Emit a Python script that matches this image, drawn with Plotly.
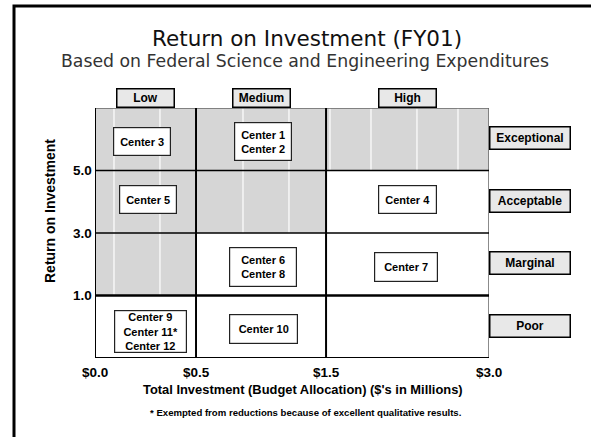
import plotly.graph_objects as go

# ---------------- data ----------------
invest_tiers = ["Low", "Medium", "High"]
return_tiers = ["Poor", "Marginal", "Acceptable", "Exceptional"]
x_tick_labels = ["$0.0", "$0.5", "$1.5", "$3.0"]
y_tick_labels = ["1.0", "3.0", "5.0"]

center_labels = ["Center 3", "Center 1<br>Center 2", "Center 5", "Center 4",
                 "Center 6<br>Center 8", "Center 7",
                 "Center 9<br>Center 11*<br>Center 12", "Center 10"]
center_invest = ["Low", "Medium", "Low", "High", "Medium", "High", "Low", "Medium"]
center_return = ["Exceptional", "Exceptional", "Acceptable", "Acceptable",
                 "Marginal", "Marginal", "Poor", "Poor"]

shaded_invest = ["Low", "Medium", "High", "Low", "Medium", "Low"]
shaded_return = ["Exceptional", "Exceptional", "Exceptional", "Acceptable", "Acceptable", "Marginal"]

title = "Return on Investment (FY01)"
subtitle = "Based on Federal Science and Engineering Expenditures"
x_title = "Total Investment (Budget Allocation) ($'s in Millions)"
y_title = "Return on Investment"
footnote = "* Exempted from reductions because of excellent qualitative results."

# ---------------- layout geometry ----------------
W, H = 591, 437
L, R, T, B = 95, 489, 108, 358
col_edges = [0, 1.0, 2.287, 3.9]          # display positions of $ thresholds
texture_x = [0.188, 0.643, 1.465, 1.92, 2.326, 2.732, 3.187, 3.593]

def px(x):
    return (x - L) / (R - L)

def py(y):
    return (B - y) / (B - T)

def col_center(tier):
    i = invest_tiers.index(tier)
    return (col_edges[i] + col_edges[i + 1]) / 2

def row_center(tier):
    return return_tiers.index(tier) + 0.5

BOLD = "Liberation Sans, Arial, sans-serif"

fig = go.Figure()
fig.add_trace(go.Scatter(x=[0, 3.9], y=[0, 4], mode="markers",
                         marker=dict(opacity=0), hoverinfo="skip", showlegend=False))

shapes = []
# shaded cells
for inv, ret in zip(shaded_invest, shaded_return):
    i = invest_tiers.index(inv)
    j = return_tiers.index(ret)
    shapes.append(dict(type="rect", xref="x", yref="y", x0=col_edges[i], x1=col_edges[i + 1],
                       y0=j, y1=j + 1, fillcolor="#d6d6d6", line=dict(width=0), layer="below"))
# texture lines
for tx in texture_x:
    shapes.append(dict(type="line", xref="x", yref="y", x0=tx, x1=tx, y0=0, y1=4,
                       line=dict(color="white", width=1.2), layer="below"))
# outer plot border (top/right gray)
shapes.append(dict(type="rect", xref="x", yref="y", x0=0, x1=3.9, y0=0, y1=4,
                   line=dict(color="#666666", width=1.5), layer="below"))
# row boundaries
for j, w in zip([1, 2, 3], [2.5, 1.5, 1.5]):
    shapes.append(dict(type="line", xref="x", yref="y", x0=0, x1=3.9, y0=j, y1=j,
                       line=dict(color="black", width=w), layer="below"))
# column boundaries
for e in col_edges[1:3]:
    shapes.append(dict(type="line", xref="x", yref="y", x0=e, x1=e, y0=0, y1=4,
                       line=dict(color="black", width=2), layer="below"))
# left and bottom axis lines
shapes.append(dict(type="line", xref="x", yref="y", x0=0, x1=0, y0=0, y1=4,
                   line=dict(color="black", width=2), layer="below"))
shapes.append(dict(type="line", xref="x", yref="y", x0=0, x1=3.9, y0=0, y1=0,
                   line=dict(color="black", width=2), layer="below"))
# slide frame
shapes.append(dict(type="path", xref="paper", yref="paper",
                   path=f"M {px(14)},{py(440)} L {px(14)},{py(6)} L {px(595)},{py(6)}",
                   line=dict(color="black", width=3)))

C = dict(xanchor="center", yanchor="middle", showarrow=False)
annotations = []
# title and subtitle
annotations.append(dict(text=title, xref="paper", yref="paper", x=px(307), y=py(38), **C,
                        font=dict(family="DejaVu Sans", size=21.5, color="#111111")))
annotations.append(dict(text=subtitle, xref="paper", yref="paper", x=px(305), y=py(61), **C,
                        font=dict(family="DejaVu Sans", size=17.3, color="#333333")))
# axis titles
annotations.append(dict(text=f"<b>{y_title}</b>", xref="paper", yref="paper", x=px(50), y=py(211),
                        textangle=-90, **C, font=dict(family=BOLD, size=14, color="black")))
annotations.append(dict(text=f"<b>{x_title}</b>", xref="paper", yref="paper", x=px(303), y=py(389),
                        **C, font=dict(family=BOLD, size=12.9, color="black")))
annotations.append(dict(text=f"<b>{footnote}</b>", xref="paper", yref="paper", x=px(305), y=py(412),
                        **C, font=dict(family=BOLD, size=9.6, color="black")))
# tick labels
for e, lab in zip(col_edges, x_tick_labels):
    annotations.append(dict(text=f"<b>{lab}</b>", xref="x", yref="paper", x=e, y=py(372),
                            **C, font=dict(family=BOLD, size=13.5, color="black")))
for j, lab in zip([1, 2, 3], y_tick_labels):
    annotations.append(dict(text=f"<b>{lab}</b>", xref="paper", yref="y", x=px(94), y=j,
                            xanchor="right", yanchor="middle", showarrow=False,
                            font=dict(family=BOLD, size=13.5, color="black")))
# category boxes on top
for inv in invest_tiers:
    annotations.append(dict(text=f"<b>{inv}</b>", xref="x", yref="paper", x=col_center(inv),
                            y=py(98.5), **C, width=56, height=17, borderpad=0,
                            bgcolor="#e8e8e8", bordercolor="black", borderwidth=1.5,
                            font=dict(family=BOLD, size=12, color="black")))
# category boxes on right
for ret in return_tiers:
    annotations.append(dict(text=f"<b>{ret}</b>", xref="paper", yref="y", x=px(530),
                            y=row_center(ret), yshift=1, **C, width=79, height=21, borderpad=0,
                            bgcolor="#e8e8e8", bordercolor="black", borderwidth=1.5,
                            font=dict(family=BOLD, size=12, color="black")))
# center boxes
box_w = [56, 56, 56, 57, 66, 62, 71, 67]
box_h = [27, 37, 27, 27, 38, 28, 41, 28]
box_dx = [-0.03, 0.02, 0.02, 0, 0.02, -0.02, 0.05, 0.02]
box_dy = [-0.04, -0.04, 0.04, 0.04, -0.04, -0.04, -0.07, -0.03]
for k, lab in enumerate(center_labels):
    annotations.append(dict(text=f"<b>{lab}</b>", xref="x", yref="y",
                            x=col_center(center_invest[k]) + box_dx[k],
                            y=row_center(center_return[k]) + box_dy[k],
                            **C, width=box_w[k], height=box_h[k], borderpad=0,
                            bgcolor="white", bordercolor="#222222", borderwidth=1.2,
                            font=dict(family=BOLD, size=11, color="black")))

fig.update_layout(
    width=W, height=H, autosize=False,
    margin=dict(l=L, r=W - R, t=T, b=H - B, pad=0),
    paper_bgcolor="white", plot_bgcolor="white",
    showlegend=False,
    xaxis=dict(range=[0, 3.9], showgrid=False, zeroline=False, showticklabels=False,
               ticks="", showline=False, fixedrange=True),
    yaxis=dict(range=[0, 4], showgrid=False, zeroline=False, showticklabels=False,
               ticks="", showline=False, fixedrange=True),
    shapes=shapes,
    annotations=annotations,
)

fig.write_html("out.html", config=dict(displayModeBar=False),
               post_script="document.body.style.margin='0';document.body.style.overflow='hidden';")
